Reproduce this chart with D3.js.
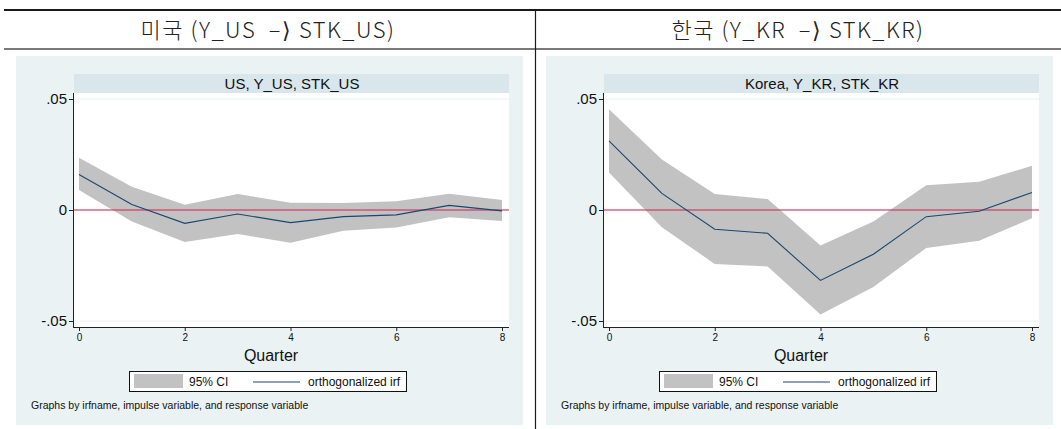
<!DOCTYPE html>
<html>
<head>
<meta charset="utf-8">
<script src="https://cdn.jsdelivr.net/npm/d3@7"></script>
<style>
  html, body { margin: 0; padding: 0; background: #ffffff; }
  svg { display: block; }
  text { font-family: "Liberation Sans", Arial, sans-serif; fill: #111; }
  .head { font-family: "Noto Sans CJK KR", sans-serif; font-size: 22px; font-weight: 300; letter-spacing: 1.5px; fill: #222; white-space: pre; }
</style>
</head>
<body>
<svg id="chart" width="1061" height="429"></svg>
<script>
// Horizon (quarters after the shock)
const quarters = [0, 1, 2, 3, 4, 5, 6, 7, 8];

// US: response of STK_US to an orthogonalized shock in Y_US
const usIrf   = [0.0160, 0.0025, -0.0060, -0.0018, -0.0057, -0.0030, -0.0022, 0.0021, -0.0004];
const usLower = [0.0090, -0.0052, -0.0144, -0.0108, -0.0147, -0.0093, -0.0079, -0.0033, -0.0049];
const usUpper = [0.0235, 0.0105, 0.0024, 0.0072, 0.0033, 0.0031, 0.0039, 0.0073, 0.0045];

// Korea: response of STK_KR to an orthogonalized shock in Y_KR
const krIrf   = [0.0311, 0.0075, -0.0087, -0.0105, -0.0317, -0.0199, -0.0030, -0.0006, 0.0079];
const krLower = [0.0169, -0.0078, -0.0243, -0.0254, -0.0471, -0.0347, -0.0171, -0.0138, -0.0037];
const krUpper = [0.0454, 0.0228, 0.0072, 0.0049, -0.0160, -0.0052, 0.0112, 0.0127, 0.0199];

// Axis ticks
const yTicks = [-0.05, 0, 0.05];
const yTickLabels = ["-.05", "0", ".05"];
const xTicks = [0, 2, 4, 6, 8];

// Header and panel texts
const headers = ["미국 (Y_US  –⟩ STK_US)", "한국 (Y_KR  –⟩ STK_KR)"];
const strips = ["US, Y_US, STK_US", "Korea, Y_KR, STK_KR"];
const legendLabels = ["95% CI", "orthogonalized irf"];
const xTitle = "Quarter";
const note = "Graphs by irfname, impulse variable, and response variable";

const panels = [
  { header: headers[0], strip: strips[0], irf: usIrf, lo: usLower, hi: usUpper },
  { header: headers[1], strip: strips[1], irf: krIrf, lo: krLower, hi: krUpper }
];

const svg = d3.select("#chart");

// Table frame around the two panels
svg.append("line").attr("x1", 4).attr("x2", 1061).attr("y1", 10).attr("y2", 10)
  .attr("stroke", "#1a1a1a").attr("stroke-width", 2);
svg.append("line").attr("x1", 4).attr("x2", 1061).attr("y1", 49).attr("y2", 49)
  .attr("stroke", "#7a7a7a").attr("stroke-width", 2);
svg.append("line").attr("x1", 535.5).attr("x2", 535.5).attr("y1", 9).attr("y2", 429)
  .attr("stroke", "#1a1a1a").attr("stroke-width", 1.2);

const colW = 530;

panels.forEach((p, i) => {
  const ox = i * colW;
  const g = svg.append("g").attr("transform", `translate(${ox},0)`);

  // Column header
  g.append("text").attr("class", "head")
    .attr("x", 268).attr("y", 38).attr("text-anchor", "middle")
    .text(p.header);

  // Graph region background
  g.append("rect").attr("x", 16).attr("y", 56).attr("width", 507).attr("height", 369)
    .attr("fill", "#eaf2f3");

  const plotL = 73, plotR = 509;
  const x = d3.scaleLinear().domain([0, 8]).range([79, 502]);
  const y = d3.scaleLinear().domain([-0.05, 0.05]).range([321, 99]);
  const plotT = 93, plotB = 327;

  // Subtitle strip
  g.append("rect").attr("x", plotL + 1).attr("y", 74).attr("width", plotR - plotL - 1).attr("height", 19)
    .attr("fill", "#d9e6eb");
  g.append("text").attr("x", (plotL + plotR) / 2 + 1).attr("y", 89)
    .attr("text-anchor", "middle").attr("font-size", 15).text(p.strip);

  // Plot region
  g.append("rect").attr("x", plotL).attr("y", plotT).attr("width", plotR - plotL).attr("height", plotB - plotT)
    .attr("fill", "#ffffff");

  // Horizontal grid at labelled values
  g.selectAll(".grid").data(yTicks).join("line")
    .attr("x1", plotL).attr("x2", plotR)
    .attr("y1", d => y(d)).attr("y2", d => y(d))
    .attr("stroke", "#eaf2f3").attr("stroke-width", 1);

  // Confidence band
  const band = quarters.map((q, k) => ({ q, lo: p.lo[k], hi: p.hi[k] }));
  g.append("path").datum(band)
    .attr("d", d3.area().x(d => x(d.q)).y0(d => y(d.lo)).y1(d => y(d.hi)))
    .attr("fill", "#c2c2c2");

  // Zero reference line
  g.append("line").attr("x1", plotL).attr("x2", plotR)
    .attr("y1", y(0)).attr("y2", y(0))
    .attr("stroke", "#d0204c").attr("stroke-width", 1.2);

  // Impulse response
  const pts = quarters.map((q, k) => ({ q, v: p.irf[k] }));
  g.append("path").datum(pts)
    .attr("d", d3.line().x(d => x(d.q)).y(d => y(d.v)))
    .attr("fill", "none").attr("stroke", "#1a476f").attr("stroke-width", 1.1);

  // Y axis
  const yAxis = d3.axisLeft(y).tickValues(yTicks)
    .tickFormat((d, k) => yTickLabels[k]).tickSize(4).tickPadding(2);
  const ya = g.append("g").attr("transform", `translate(${plotL},0)`).call(yAxis);
  ya.select(".domain").attr("d", `M0.5,${plotT}V${plotB}`).attr("stroke", "#222");
  ya.selectAll(".tick line").attr("stroke", "#222");
  ya.selectAll(".tick text").attr("font-size", 15).attr("font-family", "Liberation Sans, Arial, sans-serif")
    .attr("fill", "#111");

  // X axis
  const xAxis = d3.axisBottom(x).tickValues(xTicks).tickFormat(d3.format("d")).tickSize(4).tickPadding(3);
  const xa = g.append("g").attr("transform", `translate(0,${plotB})`).call(xAxis);
  xa.select(".domain").attr("d", `M${plotL},0.5H${plotR}`).attr("stroke", "#222");
  xa.selectAll(".tick line").attr("stroke", "#222");
  xa.selectAll(".tick text").attr("font-size", 10).attr("font-family", "DejaVu Sans, sans-serif")
    .attr("fill", "#222");

  // Axis title
  g.append("text").attr("x", 271).attr("y", 361).attr("text-anchor", "middle")
    .attr("font-size", 16).text(xTitle);

  // Legend
  const lg = g.append("g");
  lg.append("rect").attr("x", 129.5).attr("y", 371.5).attr("width", 277).attr("height", 20)
    .attr("fill", "#ffffff").attr("stroke", "#111").attr("stroke-width", 1);
  lg.append("rect").attr("x", 134).attr("y", 374).attr("width", 49).attr("height", 14)
    .attr("fill", "#c2c2c2");
  lg.append("text").attr("x", 189).attr("y", 386).attr("font-size", 12).text(legendLabels[0]);
  lg.append("line").attr("x1", 253).attr("x2", 300).attr("y1", 382).attr("y2", 382)
    .attr("stroke", "#1a476f").attr("stroke-width", 1.1);
  lg.append("text").attr("x", 308).attr("y", 386).attr("font-size", 12).text(legendLabels[1]);

  // Note
  g.append("text").attr("x", 31).attr("y", 409).attr("font-size", 10.5).text(note);
});
</script>
</body>
</html>
